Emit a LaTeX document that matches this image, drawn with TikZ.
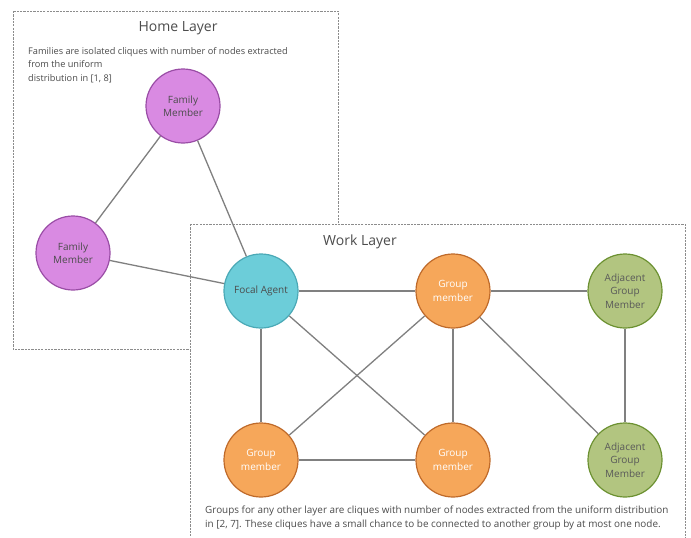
\documentclass[tikz,border=0pt]{standalone}
\usepackage{fontspec}
\setmainfont{Open Sans}
\begin{document}
\begin{tikzpicture}[x=1pt,y=-1pt,
  layerbox/.style={draw=black!45, line width=0.9pt, dash pattern=on 2.2pt off 1.1pt, fill=white},
  layertitle/.style={font=\fontsize{14}{16}\selectfont, text=black!70, inner sep=0pt},
  note/.style={font=\fontsize{9.2}{13.5}\selectfont, text=black!70, inner sep=0pt, align=left, anchor=north west},
  agent/.style={circle, minimum size=74pt, inner sep=0pt, line width=1.2pt, align=center,
    font=\fontsize{10}{13.3}\selectfont},
  family/.style={agent, fill=famfill, draw=famdraw, text=black!70},
  focal/.style={agent, fill=focfill, draw=focdraw, text=black!70},
  group/.style={agent, fill=grpfill, draw=grpdraw, text=white},
  adjacent/.style={agent, fill=adjfill, draw=adjdraw, text=black!65},
  link/.style={draw=black!50, line width=1.3pt}]
\definecolor{famfill}{HTML}{D98AE2}
\definecolor{famdraw}{HTML}{9A4DA6}
\definecolor{focfill}{HTML}{6CCDD9}
\definecolor{focdraw}{HTML}{4AA9B6}
\definecolor{grpfill}{HTML}{F6A75A}
\definecolor{grpdraw}{HTML}{BF6A2A}
\definecolor{adjfill}{HTML}{B2C580}
\definecolor{adjdraw}{HTML}{6C9131}
\useasboundingbox (0,0) rectangle (691,538);

% layer frames
\draw[layerbox] (13,11) rectangle (338,349);
\draw[layerbox] (190,224) rectangle (685,545);

\node[layertitle] (hometitle) at (178,28) {Home Layer};
\node[layertitle] (worktitle) at (360,242) {Work Layer};

\node[note] (homenote) at (28,47) {Families are isolated cliques with number of nodes extracted\\from the uniform\\distribution in [1, 8]};
\node[note, font=\fontsize{9.9}{13.4}\selectfont] (worknote) at (205,506) {Groups for any other layer are cliques with number of nodes extracted from the uniform distribution\\in [2, 7]. These cliques have a small chance to be connected to another group by at most one node.};

% agents
\node[family] (famtop) at (183,106) {Family\\Member};
\node[family] (famleft) at (73,253) {Family\\Member};
\node[focal] (focal) at (261,291) {Focal Agent};
\node[group] (grptop) at (453,291) {Group\\member};
\node[group] (grpbl) at (261,460) {Group\\member};
\node[group] (grpbm) at (453,460) {Group\\member};
\node[adjacent] (adjtop) at (625,291) {Adjacent\\Group\\Member};
\node[adjacent] (adjbot) at (625,460) {Adjacent\\Group\\Member};

% ties
\draw[link] (famtop) -- (famleft);
\draw[link] (famtop) -- (focal);
\draw[link] (famleft) -- (focal);
\draw[link] (focal) -- (grptop);
\draw[link] (focal) -- (grpbl);
\draw[link] (focal) -- (grpbm);
\draw[link] (grptop) -- (adjtop);
\draw[link] (grptop) -- (grpbl);
\draw[link] (grptop) -- (grpbm);
\draw[link] (grptop) -- (adjbot);
\draw[link] (grpbl) -- (grpbm);
\draw[link] (adjtop) -- (adjbot);
\end{tikzpicture}
\end{document}
